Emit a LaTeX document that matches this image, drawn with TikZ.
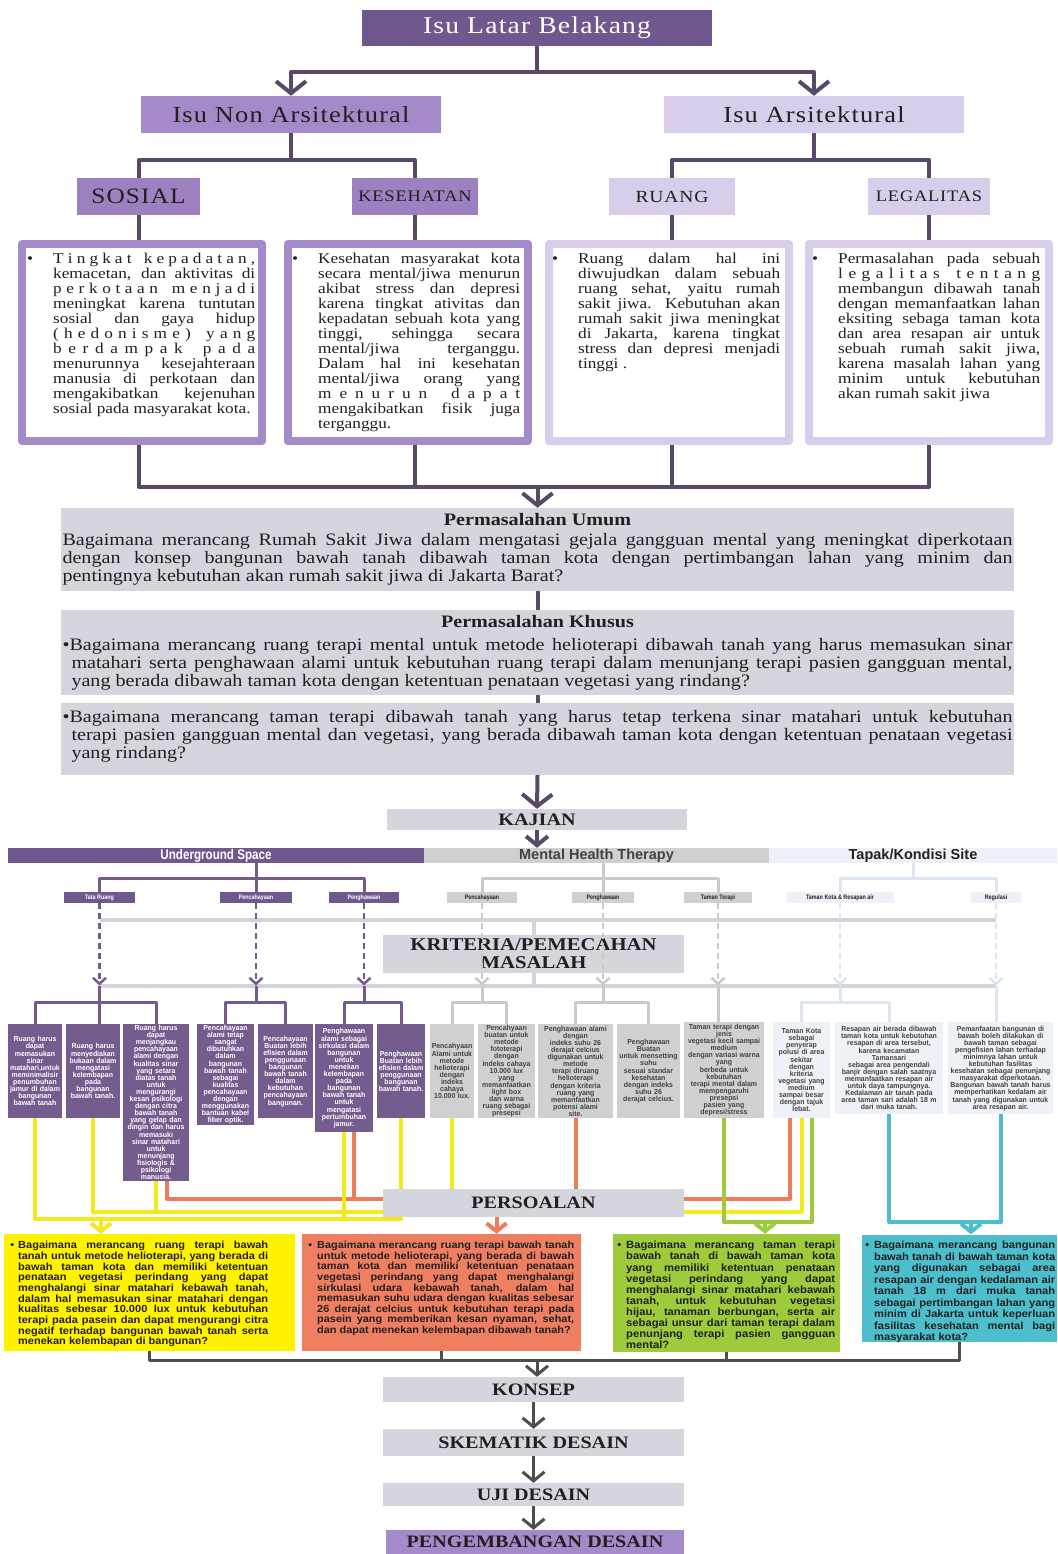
\documentclass[tikz,border=0pt]{standalone}
\usepackage{fontspec}
\setmainfont{Liberation Serif}
\newfontfamily\wserif[FakeStretch=1.15]{Liberation Serif}
\newfontfamily\tserif[FakeStretch=1.15,LetterSpace=5]{Liberation Serif}
\newfontfamily\wsans[FakeStretch=1.07]{Liberation Sans}
\newfontfamily\nsans[FakeStretch=0.95]{Liberation Sans}
\newfontfamily\csans[FakeStretch=0.83]{Liberation Sans}
\newfontfamily\xsans{Liberation Sans}
\usetikzlibrary{arrows.meta}

\definecolor{pdark}{HTML}{6F588D}
\definecolor{ldark}{HTML}{5A4868}
\definecolor{pmid}{HTML}{A48AC8}
\definecolor{psos}{HTML}{9C80C0}
\definecolor{plight}{HTML}{D8CDEA}
\definecolor{boxgray}{HTML}{D5D5DD}
\definecolor{mgray}{HTML}{D0D0D0}
\definecolor{tlight}{HTML}{EEF2F8}
\definecolor{pline}{HTML}{735B8F}
\definecolor{gline}{HTML}{D3D3DA}
\definecolor{mline}{HTML}{CACACA}
\definecolor{tline}{HTML}{DDE5EF}
\definecolor{spur}{HTML}{745C8F}
\definecolor{cyel}{HTML}{FFF200}
\definecolor{yline}{HTML}{F5E81C}
\definecolor{csal}{HTML}{EF7F61}
\definecolor{sline}{HTML}{EE7B5C}
\definecolor{cgrn}{HTML}{9DCB3C}
\definecolor{ccyn}{HTML}{4DBFCC}
\definecolor{tdark}{HTML}{231F20}
\definecolor{bdark}{HTML}{4D4D4D}

\setlength\parindent{0pt}
\setlength\parskip{0pt}
\setlength\lineskiplimit{-100pt}

% justified line, indented line, bullet, letter-spaced line
\newcommand\jl[1]{\makebox[\hsize][s]{#1}\par}
\newcommand\il[1]{\hspace*{9pt}\makebox[\dimexpr\hsize-9pt\relax][s]{#1}\par}
\newcommand\blt[1]{\leavevmode\llap{•\hskip #1}}
\def\spreadaux#1{\ifx#1\relax\else\ifx#1~\hskip 0pt plus 2fil\relax\else\hskip 0pt plus 1fil\relax#1\fi\expandafter\spreadaux\fi}
\newcommand\lsline[1]{\makebox[\hsize][s]{\hskip 0pt plus -1fil\relax\spreadaux#1\relax}\par}

\begin{document}
\begin{tikzpicture}[x=1pt,y=-1pt,line join=round,
  conn/.style={draw=ldark,line width=4pt},
  bconn/.style={draw=bdark,line width=3pt},
  tip/.style={-{Straight Barb[length=12pt,width=30pt]}},
  mtip/.style={-{Straight Barb[length=9pt,width=22pt]}},
  ctip/.style={-{Straight Barb[length=8pt,width=20pt]}},
  stip/.style={-{Straight Barb[length=6pt,width=13pt]}},
  head/.style={inner sep=0pt,minimum height=37pt,text=tdark},
  frame/.style={line width=8pt,outer sep=4pt,fill=white,minimum width=240pt,minimum height=197pt,inner sep=0pt},
  btext/.style={anchor=north west,inner sep=0pt,text width=202pt,align=justify,text=tdark,font=\wserif\fontsize{15}{15}\selectfont},
  grayb/.style={fill=boxgray,inner sep=0pt,text=tdark},
  stage/.style={grayb,minimum width=301pt,font=\wserif\bfseries\fontsize{17.5}{18}\selectfont},
  bar/.style={inner sep=0pt,minimum height=15pt},
  lab/.style={inner sep=0pt,minimum height=11pt,font=\csans\bfseries\fontsize{6.5}{7}\selectfont},
  dashl/.style={line width=2.5pt,dash pattern=on 6pt off 4pt},
  brk/.style={line width=3pt},
  sbox/.style={anchor=north,inner xsep=1pt,inner ysep=1pt,align=center,font=\nsans\bfseries\fontsize{7.3}{7.1}\selectfont},
  cline/.style={line width=4pt},
  ptext/.style={anchor=north west,inner sep=0pt,align=justify,text=tdark}
]
\fill[white] (0,0) rectangle (1057,1554);
\useasboundingbox (0,0) rectangle (1057,1554);

% isu latar belakang
\node[head,fill=pdark,text=white,minimum width=350pt,minimum height=36pt,font=\tserif\fontsize{24}{26}\selectfont] (latar) at (537,28) {Isu Latar Belakang};
\node[head,fill=pmid,minimum width=300pt,font=\tserif\fontsize{23}{25}\selectfont] (nonars) at (291,114.5) {Isu Non Arsitektural};
\node[head,fill=plight,minimum width=300pt,font=\tserif\fontsize{23}{25}\selectfont] (ars) at (814,114.5) {Isu Arsitektural};
\coordinate (jtop) at (537,72);
\draw[conn] (latar.south) -- (jtop);
\draw[conn,tip] (jtop) -| (nonars.north);
\draw[conn,tip] (jtop) -| (ars.north);

\node[head,fill=psos,minimum width=123pt,font=\tserif\fontsize{22}{24}\selectfont] (sos) at (138.5,196.5) {SOSIAL};
\node[head,fill=psos,minimum width=126pt,font=\tserif\fontsize{16}{18}\selectfont] (kes) at (415,196.5) {KESEHATAN};
\node[head,fill=plight,minimum width=126pt,font=\tserif\fontsize{17}{18}\selectfont] (ruang) at (672,196.5) {RUANG};
\node[head,fill=plight,minimum width=122pt,font=\tserif\fontsize{16}{18}\selectfont] (legal) at (929,196.5) {LEGALITAS};
\coordinate (jsplit) at (0,160);
\draw[conn] (nonars.south) -- (nonars.south |- jsplit);
\draw[conn] (sos.north) -- (sos |- jsplit) -- (kes |- jsplit) -- (kes.north);
\draw[conn] (ars.south) -- (ars.south |- jsplit);
\draw[conn] (ruang.north) -- (ruang |- jsplit) -- (legal |- jsplit) -- (legal.north);

% text boxes
\node[frame,draw=pmid] (sosbox) at (142,342.5) {};
\node[frame,draw=pmid] (kesbox) at (407.5,342.5) {};
\node[frame,draw=plight] (ruangbox) at (668.5,342.5) {};
\node[frame,draw=plight] (legalbox) at (928.5,342.5) {};
\draw[conn] (sos.south) -- (sos.south |- sosbox.north);
\draw[conn] (kes.south) -- (kes.south |- kesbox.north);
\draw[conn] (ruang.south) -- (ruang.south |- ruangbox.north);
\draw[conn] (legal.south) -- (legal.south |- legalbox.north);

\node[btext] (sostxt) at (53,253) {\blt{20pt}\lsline{Tingkat~kepadatan,}
\jl{kemacetan, dan aktivitas di}
\lsline{perkotaan~menjadi}
\jl{meningkat karena tuntutan}
\jl{sosial dan gaya hidup}
\lsline{(hedonisme)~yang}
\lsline{berdampak~pada}
\jl{menurunnya kesejahteraan}
\jl{manusia di perkotaan dan}
\jl{mengakibatkan kejenuhan}
sosial pada masyarakat kota.};
\node[btext] (kestxt) at (318,253) {\blt{20pt}\jl{Kesehatan masyarakat kota}
\jl{secara mental/jiwa menurun}
\jl{akibat stress dan depresi}
\jl{karena tingkat ativitas dan}
\jl{kepadatan sebuah kota yang}
\jl{tinggi, sehingga secara}
\jl{mental/jiwa terganggu.}
\jl{Dalam hal ini kesehatan}
\jl{mental/jiwa orang yang}
\lsline{menurun~dapat}
\jl{mengakibatkan fisik juga}
terganggu.};
\node[btext] (ruangtxt) at (578,253) {\blt{20pt}\jl{Ruang dalam hal ini}
\jl{diwujudkan dalam sebuah}
\jl{ruang sehat, yaitu rumah}
\jl{sakit jiwa. Kebutuhan akan}
\jl{rumah sakit jiwa meningkat}
\jl{di Jakarta, karena tingkat}
\jl{stress dan depresi menjadi}
tinggi .};
\node[btext] (legaltxt) at (838,253) {\blt{20pt}\jl{Permasalahan pada sebuah}
\lsline{legalitas~tentang}
\jl{membangun dibawah tanah}
\jl{dengan memanfaatkan lahan}
\jl{eksiting sebaga taman kota}
\jl{dan area resapan air untuk}
\jl{sebuah rumah sakit jiwa,}
\jl{karena masalah lahan yang}
\jl{minim untuk kebutuhan}
akan rumah sakit jiwa};

% permasalahan
\node[grayb,minimum width=953pt,minimum height=83pt,text width=950pt,align=justify,font=\wserif\fontsize{17.5}{18}\selectfont] (umum) at (537.5,549.5) {\makebox[\hsize]{\bfseries Permasalahan Umum}\par\vspace{2pt}
\jl{Bagaimana merancang Rumah Sakit Jiwa dalam mengatasi gejala gangguan mental yang meningkat diperkotaan}
\jl{dengan konsep bangunan bawah tanah dibawah taman kota dengan pertimbangan lahan yang minim dan}
pentingnya kebutuhan akan rumah sakit jiwa di Jakarta Barat?};
\node[grayb,minimum width=953pt,minimum height=85pt,text width=950pt,align=justify,font=\wserif\fontsize{17.5}{18}\selectfont] (khusus) at (537.5,652.5) {\makebox[\hsize]{\bfseries Permasalahan Khusus}\par\vspace{5pt}
\jl{•Bagaimana merancang ruang terapi mental untuk metode helioterapi dibawah tanah yang harus memasukan sinar}
\il{matahari serta penghawaan alami untuk kebutuhan ruang terapi dalam menunjang terapi pasien gangguan mental,}
\hspace*{9pt}yang berada dibawah taman kota dengan ketentuan penataan vegetasi yang rindang?};
\node[grayb,minimum width=953pt,minimum height=72pt,text width=950pt,align=justify,font=\wserif\fontsize{17.5}{18}\selectfont] (khusus2) at (537.5,739) {\jl{•Bagaimana merancang taman terapi dibawah tanah yang harus tetap terkena sinar matahari untuk kebutuhan}
\il{terapi pasien gangguan mental dan vegetasi, yang berada dibawah taman kota dengan ketentuan penataan vegetasi}
\hspace*{9pt}yang rindang?\par\vspace{5pt}};
\coordinate (jbot) at (0,487);
\draw[conn] (sos |- sosbox.south) -- (sos |- jbot) -- (legal |- jbot) -- (legal |- legalbox.south);
\draw[conn] (kes |- kesbox.south) -- (kes |- jbot);
\draw[conn] (ruang |- ruangbox.south) -- (ruang |- jbot);
\draw[conn,tip] (umum.north |- jbot) -- (umum.north);
\draw[conn] (umum.south) -- (khusus.north);
\draw[conn] (khusus.south) -- (khusus2.north);

% kajian
\node[stage,minimum width=300pt,minimum height=21pt] (kajian) at (537,819.5) {KAJIAN};
\draw[conn,tip] (khusus2.south) -- (kajian.north);
\node[bar,fill=pdark,text=white,minimum width=416pt,font=\csans\bfseries\fontsize{14}{14}\selectfont] (ugbar) at (216,855.5) {Underground Space};
\node[bar,fill=mgray,text=tdark!85,minimum width=345pt,font=\xsans\bfseries\fontsize{14.5}{14}\selectfont] (mhbar) at (596.5,855.5) {Mental Health Therapy};
\node[bar,fill=tlight,text=tdark,minimum width=288pt,font=\xsans\bfseries\fontsize{14.5}{14}\selectfont] (tkbar) at (913,855.5) {Tapak/Kondisi Site};
\draw[conn,mtip] (kajian.south) -- (kajian.south |- mhbar.north);

% sub labels
\node[lab,fill=pdark,text=white,minimum width=71pt] (lTR) at (99.5,897.5) {Tata Ruang};
\node[lab,fill=pdark,text=white,minimum width=72pt] (lPC1) at (256,897.5) {Pencahayaan};
\node[lab,fill=pdark,text=white,minimum width=70pt] (lPH1) at (364,897.5) {Penghawaan};
\node[lab,fill=mgray,text=tdark,minimum width=70pt] (lPC2) at (482,897.5) {Pencahayaan};
\node[lab,fill=mgray,text=tdark,minimum width=62pt] (lPH2) at (603,897.5) {Penghawaan};
\node[lab,fill=mgray,text=tdark,minimum width=68pt] (lTT) at (718,897.5) {Taman Terapi};
\node[lab,fill=tlight,text=tdark,minimum width=107pt] (lTK) at (840,897.5) {Taman Kota \& Resapan air};
\node[lab,fill=tlight,text=tdark,minimum width=50pt] (lRG) at (996,897.5) {Regulasi};
\coordinate (rowA) at (0,878);
\coordinate (rowB) at (0,920);
\coordinate (rowC) at (0,985.5);
\coordinate (rowD) at (0,1002);
\draw[brk,pline] (lPC1 |- ugbar.south) -- (lPC1.north);
\draw[brk,pline] (lTR.north) -- (lTR |- rowA) -- (lPH1 |- rowA) -- (lPH1.north);
\draw[brk,mline] (lPH2 |- mhbar.south) -- (lPH2.north);
\draw[brk,mline] (lPC2.north) -- (lPC2 |- rowA) -- (lTT |- rowA) -- (lTT.north);
\draw[brk,tline] (tkbar.south) -- (tkbar.south |- rowA);
\draw[brk,tline] (lTK.north) -- (lTK |- rowA) -- (lRG |- rowA) -- (lRG.north);

% kriteria
\coordinate (kritC) at (533.5,954);
\draw[line width=4pt,gline] (lTR |- rowB) -- (lRG |- rowB);
\draw[line width=4pt,gline] (lTR |- rowC) -- (lRG |- rowC);
\draw[line width=4pt,gline] (kritC |- rowB) -- (kritC |- rowC);
\node[stage,minimum height=38pt,align=center,font=\wserif\bfseries\fontsize{18}{18}\selectfont] (krit) at (kritC) {KRITERIA/PEMECAHAN\\MASALAH};
\draw[dashl,pline,stip] (lTR.south) -- (lTR |- rowC);
\draw[dashl,pline,stip] (lPC1.south) -- (lPC1 |- rowC);
\draw[dashl,pline,stip] (lPH1.south) -- (lPH1 |- rowC);
\draw[dashl,mline,stip] (lPC2.south) -- (lPC2 |- rowC);
\draw[dashl,mline,stip] (lPH2.south) -- (lPH2 |- rowC);
\draw[dashl,mline,stip] (lTT.south) -- (lTT |- rowC);
\draw[dashl,tline,stip] (lTK.south) -- (lTK |- rowC);
\draw[dashl,tline,stip] (lRG.south) -- (lRG |- rowC);

% kriteria boxes
\node[sbox,fill=spur,text=white,text width=52pt,minimum height=94pt] (bP1) at (35,1024) {Ruang harus\\dapat\\memasukan\\sinar\\matahari,untuk\\meminimalisir\\penumbuhan\\jamur di dalam\\bangunan\\bawah tanah};
\node[sbox,fill=spur,text=white,text width=52pt,minimum height=94pt] (bP2) at (93,1024) {Ruang harus\\menyediakan\\bukaan dalam\\mengatasi\\kelembapan\\pada\\bangunan\\bawah tanah.};
\node[sbox,fill=spur,text=white,text width=64pt,minimum height=156pt] (bP3) at (156,1024) {Ruang harus\\dapat\\menjangkau\\pencahayaan\\alami dengan\\kualitas sinar\\yang setara\\diatas tanah\\untuk\\mengurangi\\kesan psikologi\\dengan citra\\bawah tanah\\yang gelap dan\\dingin dan harus\\memasuki\\sinar matahari\\untuk\\menunjang\\fisiologis \&\\psikologi\\manusia.};
\node[sbox,fill=spur,text=white,text width=55pt,minimum height=101pt] (bP4) at (225.5,1024) {Pencahayaan\\alami tetap\\sangat\\dibutuhkan\\dalam\\bangunan\\bawah tanah\\sebagai\\kualitas\\pencahayaan\\dengan\\menggunakan\\bantuan kabel\\fiber optik.};
\node[sbox,fill=spur,text=white,text width=53pt,minimum height=94pt] (bP5) at (285.5,1024) {Pencahayaan\\Buatan lebih\\efisien dalam\\penggunaan\\bangunan\\bawah tanah\\dalam\\kebutuhan\\pencahayaan\\bangunan.};
\node[sbox,fill=spur,text=white,text width=56pt,minimum height=108pt] (bP6) at (344,1024) {Penghawaan\\alami sebagai\\sirkulasi dalam\\bangunan\\untuk\\menekan\\kelembapan\\pada\\bangunan\\bawah tanah\\untuk\\mengatasi\\pertumbuhan\\jamur.};
\node[sbox,fill=spur,text=white,text width=46pt,minimum height=94pt] (bP7) at (401,1024) {Penghawaan\\Buatan lebih\\efisien dalam\\penggunaan\\bangunan\\bawah tanah.};
\node[sbox,fill=mgray,text=tdark!85,text width=42pt,minimum height=94pt] (bG1) at (452,1024) {Pencahyaan\\Alami untuk\\metode\\helioterapi\\dengan\\indeks\\cahaya\\10.000 lux.};
\node[sbox,fill=mgray,text=tdark!85,text width=55pt,minimum height=94pt] (bG2) at (506.5,1024) {Pencahyaan\\buatan untuk\\metode\\fototerapi\\dengan\\indeks cahaya\\10.000 lux\\yang\\memanfaatkan\\light box\\dan warna\\ruang sebagai\\presepsi};
\node[sbox,fill=mgray,text=tdark!85,text width=73pt,minimum height=94pt] (bG3) at (575.5,1024) {Penghawaan alami\\dengan\\indeks suhu 26\\derajat celcius\\digunakan untuk\\metode\\terapi diruang\\helioterapi\\dengan kriteria\\ruang yang\\memanfaatkan\\potensi alami\\site.};
\node[sbox,fill=mgray,text=tdark!85,text width=61pt,minimum height=94pt] (bG4) at (648.5,1024) {Penghawaan\\Buatan\\untuk mensetting\\suhu\\sesuai standar\\kesehatan\\dengan indeks\\suhu 26\\derajat celcius.};
\node[sbox,fill=mgray,text=tdark!85,text width=78pt,minimum height=96pt] (bG5) at (724,1022) {Taman terapi dengan\\jenis\\vegetasi kecil sampai\\medium\\dengan variasi warna\\yang\\berbeda untuk\\kebutuhan\\terapi mental dalam\\mempengaruhi\\presepsi\\pasien yang\\depresi/stress};
\node[sbox,fill=tlight,text=tdark!85,text width=55pt,minimum height=96pt] (bT1) at (801.5,1022) {Taman Kota\\sebagai\\penyerap\\polusi di area\\sekitar\\dengan\\kriteria\\vegetasi yang\\medium\\sampai besar\\dengan tajuk\\lebat.};
\node[sbox,fill=tlight,text=tdark!85,text width=106pt,minimum height=92pt] (bT2) at (889,1022) {Resapan air berada dibawah\\taman kota untuk kebutuhan\\resapan di area tersebut,\\karena kecamatan\\Tamansari\\sebagai area pengendali\\banjir dengan salah saatnya\\memanfaatkan resapan air\\untuk daya tampungnya.\\Kedalaman air tanah pada\\area taman sari adalah 18 m\\dari muka tanah.};
\node[sbox,fill=tlight,text=tdark!85,text width=103pt,minimum height=92pt] (bT3) at (1000.5,1022) {Pemanfaatan bangunan di\\bawah boleh dilakukan di\\bawah taman sebagai\\pengefisien lahan terhadap\\minimnya lahan untuk\\kebutuhan fasilitas\\kesehatan sebagai penunjang\\masyarakat diperkotaan.\\Bangunan bawah tanah harus\\memperhatikan kedalam air\\tanah yang digunakan untuk\\area resapan air.};

% brackets into the boxes
\draw[brk,pline] (lTR |- rowC) -- (lTR |- bP2.north);
\draw[brk,pline] (bP1.north) -- (bP1 |- rowD) -- (bP3 |- rowD) -- (bP3.north);
\draw[brk,pline] (lPC1 |- rowC) -- (lPC1 |- rowD);
\draw[brk,pline] (bP4.north) -- (bP4 |- rowD) -- (bP5 |- rowD) -- (bP5.north);
\draw[brk,pline] (lPH1 |- rowC) -- (lPH1 |- rowD);
\draw[brk,pline] (bP6.north) -- (bP6 |- rowD) -- (bP7 |- rowD) -- (bP7.north);
\draw[brk,mline] (lPC2 |- rowC) -- (lPC2 |- rowD);
\draw[brk,mline] (bG1.north) -- (bG1 |- rowD) -- (bG2 |- rowD) -- (bG2.north);
\draw[brk,mline] (lPH2 |- rowC) -- (lPH2 |- rowD);
\draw[brk,mline] (bG3.north) -- (bG3 |- rowD) -- (bG4 |- rowD) -- (bG4.north);
\draw[brk,mline] (lTT |- rowC) -- (lTT |- bG5.north);
\draw[brk,tline] (lTK |- rowC) -- (lTK |- rowD);
\draw[brk,tline] (bT1.north) -- (bT1 |- rowD) -- (bT2 |- rowD) -- (bT2.north);
\draw[brk,tline] (lRG |- rowC) -- (lRG |- bT3.north);

% persoalan boxes
\node[fill=cyel,inner sep=0pt,minimum width=291pt,minimum height=117pt] (yelbox) at (149.5,1292.5) {};
\node[fill=csal,inner sep=0pt,minimum width=279pt,minimum height=117pt] (salbox) at (441.5,1292.5) {};
\node[fill=cgrn,inner sep=0pt,minimum width=227pt,minimum height=118pt] (grnbox) at (726.5,1293) {};
\node[fill=ccyn,inner sep=0pt,minimum width=195pt,minimum height=107pt] (cynbox) at (959.5,1288) {};

% coloured connectors
\coordinate (rowS) at (0,1199);
\coordinate (rowY) at (0,1212);
\coordinate (rowY2) at (0,1219);
\coordinate (rowG) at (0,1222);
\coordinate (s1) at ([xshift=11pt]bP3.south);
\coordinate (s2) at ([xshift=10pt]bP6.south);
\coordinate (s4) at ([xshift=-12pt]bT1.south);
\coordinate (g2) at ([xshift=10pt]bT1.south);
\coordinate (yarr) at (101,1219);
\coordinate (garr) at (765,1222);
\coordinate (carr) at (971,1222);
\draw[cline,sline] (s1) -- (s1 |- rowS) -- (s4 |- rowS) -- (s4);
\draw[cline,sline] (s2) -- (s2 |- rowS);
\draw[cline,sline] (bG3.south) -- (bG3 |- rowS);
\draw[cline,yline] (bP2.south) -- (bP2 |- rowY) -- (bT1 |- rowY) -- (bT1.south);
\draw[cline,yline] (bP3.south) -- (bP3 |- rowY);
\draw[cline,yline] (bG1.south) -- (bG1 |- rowY);
\draw[cline,yline] (bP1.south) -- (bP1 |- rowY2) -- (bP7 |- rowY2) -- (bP7.south);
\draw[cline,yline] (bP6.south) -- (bP6 |- rowY2);
\draw[cline,yline,ctip] (yarr) -- (yarr |- yelbox.north);
\draw[cline,cgrn] (bG5.south) -- (bG5 |- rowG) -- (g2 |- rowG) -- (g2);
\draw[cline,cgrn,ctip] (garr) -- (garr |- grnbox.north);
\draw[cline,ccyn] (bT2.south) -- (bT2 |- rowG) -- (bT3 |- rowG) -- (bT3.south);
\draw[cline,ccyn,ctip] (carr) -- (carr |- cynbox.north);
\node[stage,minimum height=28pt] (persoal) at (533.5,1203) {PERSOALAN};
\coordinate (sarr) at ([xshift=-37pt]persoal.south);
\draw[cline,sline,ctip] (sarr) -- (sarr |- salbox.north);

\node[ptext,text width=250pt,font=\wsans\bfseries\fontsize{10.3}{10.7}\selectfont] (yeltxt) at (18,1241) {\blt{4pt}\jl{Bagaimana merancang ruang terapi bawah}
\jl{tanah untuk metode helioterapi, yang berada di}
\jl{bawah taman kota dan memiliki ketentuan}
\jl{penataan vegetasi perindang yang dapat}
\jl{menghalangi sinar matahari kebawah tanah,}
\jl{dalam hal memasukan sinar matahari dengan}
\jl{kualitas sebesar 10.000 lux untuk kebutuhan}
\jl{terapi pada pasein dan dapat mengurangi citra}
\jl{negatif terhadap bangunan bawah tanah serta}
menekan kelembapan di bangunan?};
\node[ptext,text width=257pt,font=\wsans\bfseries\fontsize{10.2}{10.6}\selectfont] (saltxt) at (317,1241) {\blt{5pt}\jl{Bagaimana merancang ruang terapi bawah tanah}
\jl{untuk metode helioterapi, yang berada di bawah}
\jl{taman kota dan memiliki ketentuan penataan}
\jl{vegetasi perindang yang dapat menghalangi}
\jl{sirkulasi udara kebawah tanah, dalam hal}
\jl{memasukan suhu udara dengan kualitas sebesar}
\jl{26 derajat celcius untuk kebutuhan terapi pada}
\jl{pasein yang memberikan kesan nyaman, sehat,}
dan dapat menekan kelembapan dibawah tanah?};
\node[ptext,text width=209pt,font=\wsans\bfseries\fontsize{10.5}{11.1}\selectfont] (grntxt) at (626,1241) {\blt{5pt}\jl{Bagaimana merancang taman terapi}
\jl{bawah tanah di bawah taman kota}
\jl{yang memiliki ketentuan penataan}
\jl{vegetasi perindang yang dapat}
\jl{menghalangi sinar matahari kebawah}
\jl{tanah, untuk kebutuhan vegetasi}
\jl{hijau, tanaman berbungan, serta air}
\jl{sebagai unsur dari taman terapi dalam}
\jl{penunjang terapi pasien gangguan}
mental?};
\node[ptext,text width=181pt,font=\wsans\bfseries\fontsize{10.4}{11.5}\selectfont] (cyntxt) at (874,1241) {\blt{5pt}\jl{Bagaimana merancang bangunan}
\jl{bawah tanah di bawah taman kota}
\jl{yang digunakan sebagai area}
\jl{resapan air dengan kedalaman air}
\jl{tanah 18 m dari muka tanah}
\jl{sebagai pertimbangan lahan yang}
\jl{minim di Jakarta untuk keperluan}
\jl{fasilitas kesehatan mental bagi}
masyarakat kota?};

% tahapan desain
\node[stage,minimum height=25pt] (konsep) at (533.5,1389.5) {KONSEP};
\node[stage,minimum height=27pt] (skem) at (533.5,1442.5) {SKEMATIK DESAIN};
\node[stage,minimum height=23pt] (uji) at (533.5,1494.5) {UJI DESAIN};
\node[stage,fill=pmid,minimum width=298pt,minimum height=24pt] (kemb) at (535,1542) {PENGEMBANGAN DESAIN};
\coordinate (bj) at (537,1360);
\draw[bconn] (yelbox.south) -- (yelbox |- bj) -- (cynbox |- bj) -- (cynbox.south);
\draw[bconn] (salbox.south) -- (salbox |- bj);
\draw[bconn] (grnbox.south) -- (grnbox |- bj);
\draw[bconn,mtip] (bj) -- (bj |- konsep.north);
\draw[bconn,mtip] (konsep.south) -- (skem.north);
\draw[bconn,mtip] (skem.south) -- (uji.north);
\draw[bconn,mtip] (uji.south) -- (uji.south |- kemb.north);
\end{tikzpicture}
\end{document}
